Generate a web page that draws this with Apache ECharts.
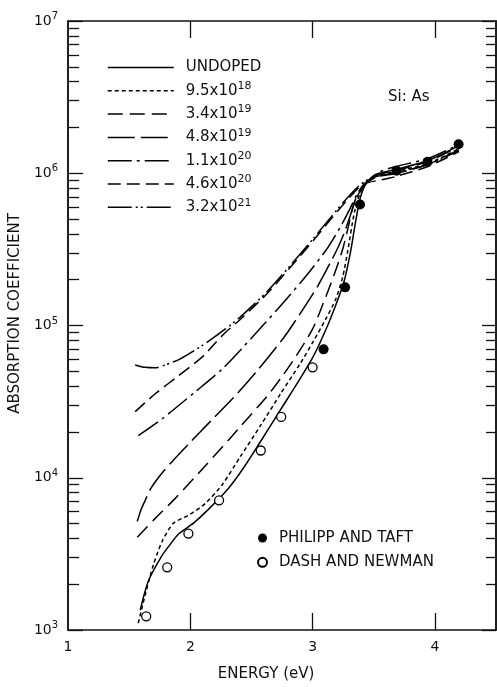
<!DOCTYPE html>
<html>
<head>
<meta charset="utf-8">
<script src="https://cdn.jsdelivr.net/npm/echarts@6/dist/echarts.min.js"></script>
<style>
  html, body { margin: 0; padding: 0; background: #fff; }
  #chart { width: 497px; height: 687px; }
</style>
</head>
<body>
<div id="chart"></div>
<script>
// energy (eV), absorption coefficient (cm^-1)
const undoped = [[1.59, 1350], [1.656, 2090], [1.77, 3100], [1.836, 3660], [1.902, 4250], [1.967, 4650], [2.033, 5090], [2.148, 6200], [2.311, 8500], [2.443, 11850], [2.574, 17300], [2.738, 28000], [2.902, 45300], [3.008, 63100], [3.107, 93400], [3.189, 136000], [3.254, 190000], [3.311, 307000], [3.352, 483000], [3.393, 704000], [3.443, 870000], [3.516, 981000], [3.68, 1058000], [3.943, 1212000], [4.197, 1520000]]
const n95e18 = [[1.574, 1110], [1.631, 1700], [1.697, 2670], [1.77, 3830], [1.861, 5020], [1.984, 5660], [2.123, 6780], [2.262, 9030], [2.41, 13800], [2.574, 22000], [2.738, 35600], [2.902, 56800], [3.008, 79200], [3.107, 110000], [3.189, 149000], [3.246, 208000], [3.287, 307000], [3.344, 562000], [3.41, 807000], [3.516, 952000], [3.68, 1027000], [3.943, 1158000], [4.197, 1452000]]
const n34e19 = [[1.566, 4060], [1.713, 5410], [1.877, 7320], [2.123, 12000], [2.344, 18900], [2.41, 21700], [2.631, 34600], [2.754, 46700], [2.861, 62200], [3.0, 94900], [3.09, 142000], [3.172, 211000], [3.246, 317000], [3.287, 428000], [3.336, 625000], [3.41, 832000], [3.541, 981000], [3.68, 1042000], [3.943, 1194000], [4.197, 1497000]]
const n48e19 = [[1.566, 5170], [1.598, 6200], [1.631, 7100], [1.672, 8380], [1.721, 9590], [1.779, 11000], [1.852, 12800], [1.959, 15800], [2.098, 20700], [2.344, 33000], [2.533, 48900], [2.762, 82800], [2.902, 121000], [3.041, 181000], [3.197, 312000], [3.254, 397000], [3.303, 513000], [3.361, 694000], [3.443, 870000], [3.541, 952000], [3.68, 996000], [3.943, 1141000], [4.197, 1431000]]
const n11e20 = [[1.574, 18900], [1.77, 24400], [2.041, 36700], [2.262, 51900], [2.508, 84100], [2.713, 128000], [2.926, 202000], [3.115, 317000], [3.23, 448000], [3.303, 579000], [3.377, 760000], [3.459, 897000], [3.557, 1027000], [3.68, 1107000], [3.943, 1249000], [4.197, 1543000]]
const n46e20 = [[1.549, 27200], [1.713, 35600], [1.902, 46700], [2.098, 62200], [2.197, 75700], [2.287, 90000], [2.41, 110000], [2.631, 163000], [2.82, 242000], [3.008, 363000], [3.148, 498000], [3.287, 673000], [3.41, 844000], [3.574, 910000], [3.68, 952000], [3.943, 1107000], [4.197, 1388000]]
const n32e21 = [[1.549, 55100], [1.631, 53100], [1.713, 52700], [1.795, 55100], [1.918, 60400], [2.041, 69100], [2.164, 80400], [2.287, 94900], [2.41, 114000], [2.631, 168000], [2.82, 249000], [3.008, 374000], [3.148, 513000], [3.287, 694000], [3.393, 844000], [3.492, 938000], [3.68, 1011000], [3.943, 1141000], [4.197, 1409000]]

const philippTaft = [[3.09, 69700], [3.266, 178000], [3.388, 624000], [3.686, 1040000], [3.94, 1190000], [4.194, 1550000]]
const dashNewman = [[1.639, 1230], [1.811, 2580], [1.984, 4300], [2.235, 7110], [2.576, 15100], [2.743, 25100], [3.0, 53100]]

const xTickLabels = [1, 2, 3, 4]
const yDecades = [3, 4, 5, 6, 7]

const FONT = 'DejaVu Sans'
const INK = '#111'

const curves = [
  { name: 'UNDOPED', data: undoped, dash: 'solid' },
  { name: '9.5x10^18', data: n95e18, dash: [4, 3] },
  { name: '3.4x10^19', data: n34e19, dash: [15, 7] },
  { name: '4.8x10^19', data: n48e19, dash: [27, 6] },
  { name: '1.1x10^20', data: n11e20, dash: [24, 5, 3, 5] },
  { name: '4.6x10^20', data: n46e20, dash: [13, 6] },
  { name: '3.2x10^21', data: n32e21, dash: [24, 4, 2, 3, 2, 4] }
]

// alpha -> decade exponent, so the value axis works as a log axis
const toLog = pts => pts.map(p => [p[0], Math.log10(p[1])])

const minorTicks = []
yDecades.slice(0, -1).forEach(d => {
  for (let k = 2; k <= 9; k++) minorTicks.push(d + Math.log10(k))
})

const supRich = (base, sup) => ({
  b: { fontFamily: FONT, fontSize: base, lineHeight: base + 5, color: INK },
  s: { fontFamily: FONT, fontSize: sup, lineHeight: sup + 1, verticalAlign: 'top', color: INK }
})

function legendText (name) {
  const parts = name.split('^')
  return parts.length > 1 ? '{b|' + parts[0] + '}{s|' + parts[1] + '}' : '{b|' + name + '}'
}

const axisLine = { show: true, lineStyle: { color: INK, width: 1.5 } }

function yAxis (pos, ticks, len, labels) {
  return {
    type: 'value',
    position: pos,
    min: 3,
    max: 7,
    interval: 1,
    axisLine: axisLine,
    splitLine: { show: false },
    axisTick: { show: true, inside: true, length: len, customValues: ticks, lineStyle: { color: INK, width: 1.3 } },
    axisLabel: labels
      ? {
          show: true,
          margin: 10,
          customValues: yDecades,
          formatter: v => '{b|10}{s|' + v + '}',
          rich: supRich(14, 10)
        }
      : { show: false }
  }
}

function xAxis (pos, labels) {
  const ax = {
    type: 'value',
    position: pos,
    min: 1,
    max: 4.5,
    interval: 1,
    axisLine: axisLine,
    splitLine: { show: false },
    axisTick: { show: true, inside: true, length: 17, customValues: [2, 3, 4], lineStyle: { color: INK, width: 1.3 } },
    axisLabel: labels
      ? { show: true, margin: 10, customValues: xTickLabels, fontFamily: FONT, fontSize: 14, color: INK }
      : { show: false }
  }
  if (labels) {
    ax.name = 'ENERGY (eV)'
    ax.nameLocation = 'middle'
    ax.nameGap = 37
    ax.nameTextStyle = { fontFamily: FONT, fontSize: 15, color: INK, padding: [0, 32, 0, 0] }
  }
  return ax
}

const leftMajor = yAxis('left', yDecades, 15, true)
leftMajor.name = 'ABSORPTION COEFFICIENT'
leftMajor.nameLocation = 'middle'
leftMajor.nameGap = 44
leftMajor.nameTextStyle = { fontFamily: FONT, fontSize: 15, color: INK, padding: [0, 0, 0, 24] }

const series = curves.map(c => ({
  name: c.name,
  type: 'line',
  data: toLog(c.data),
  smooth: 0.25,
  symbol: 'none',
  lineStyle: { color: '#000', width: 1.5, type: c.dash },
  itemStyle: { color: '#000' },
  z: 2,
  silent: true
}))

series.push({
  name: 'PHILIPP AND TAFT',
  type: 'scatter',
  data: toLog(philippTaft),
  symbol: 'circle',
  symbolSize: 10,
  itemStyle: { color: '#000', opacity: 1 },
  z: 4
})
series.push({
  name: 'DASH AND NEWMAN',
  type: 'scatter',
  data: toLog(dashNewman),
  symbol: 'circle',
  symbolSize: 9,
  itemStyle: { color: '#fff', borderColor: '#000', borderWidth: 1.3, opacity: 1 },
  z: 4
})

const chart = echarts.init(document.getElementById('chart'), null, { renderer: 'canvas' })
chart.setOption({
  animation: false,
  backgroundColor: '#fff',
  grid: { left: 68, right: 1, top: 21, bottom: 55, containLabel: false },
  xAxis: [xAxis('bottom', true), xAxis('top', false)],
  yAxis: [
    leftMajor,
    yAxis('left', minorTicks, 11, false),
    yAxis('right', yDecades, 14, false),
    yAxis('right', minorTicks, 10, false)
  ],
  legend: [
    {
      data: curves.map(c => c.name),
      orient: 'vertical',
      left: 102,
      top: 55,
      itemWidth: 66,
      itemHeight: 10,
      itemGap: 5.8,
      selectedMode: false,
      formatter: legendText,
      itemStyle: { opacity: 0 },
      lineStyle: { width: 1.5 },
      textStyle: { padding: [0, 0, 0, 7], rich: supRich(15, 11) }
    },
    {
      data: ['PHILIPP AND TAFT', 'DASH AND NEWMAN'],
      orient: 'vertical',
      left: 252,
      top: 525,
      itemWidth: 9,
      itemHeight: 9,
      itemGap: 8.3,
      selectedMode: false,
      textStyle: { fontFamily: FONT, fontSize: 15, lineHeight: 16, color: INK, padding: [0, 0, 0, 7] }
    }
  ],
  graphic: [
    {
      type: 'text',
      left: 388,
      top: 90,
      style: { text: 'Si: As', font: '15px "DejaVu Sans"', fill: INK }
    }
  ],
  series: series
})
</script>
</body>
</html>
